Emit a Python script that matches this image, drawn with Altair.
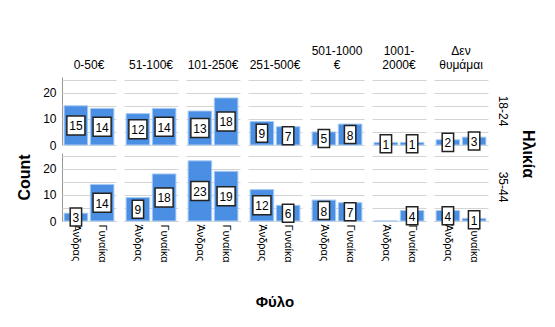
import altair as alt
import pandas as pd

incomes = ["0-50€", "51-100€", "101-250€", "251-500€", "501-1000|€", "1001-|2000€", "Δεν|θυμάμαι"]
ages = ["18-24", "35-44"]
genders = ["Άνδρας", "Γυναίκα"]
counts_18_24 = [[15, 14], [12, 14], [13, 18], [9, 7], [5, 8], [1, 1], [2, 3]]
counts_35_44 = [[3, 14], [9, 18], [23, 19], [12, 6], [8, 7], [0, 4], [4, 1]]

rows = []
for age, table in zip(ages, [counts_18_24, counts_35_44]):
    for inc, pair in zip(incomes, table):
        for g, c in zip(genders, pair):
            rows.append({"income": inc, "age": age, "gender": g, "count": c,
                         "digits": "two" if c >= 10 else "one"})
df = pd.DataFrame(rows)

FONT = "Liberation Sans"

x_scale = alt.Scale(paddingInner=0.1, paddingOuter=0.08)
y_scale = alt.Scale(domain=[0, 26], nice=False)
x_axis = alt.Axis(labelAngle=90, labelAlign="left", labelBaseline="middle",
                  ticks=False, labelFontSize=11, labelColor="#000",
                  domainColor="#888", labelPadding=3)
y_axis = alt.Axis(values=[0, 5, 10, 15, 20, 25],
                  labelExpr="datum.value % 10 == 0 ? datum.label : ''",
                  labelOverlap=False, grid=True,
                  ticks=False, gridColor="#d4d4d4", domainColor="#999",
                  labelFontSize=12, labelColor="#000", labelPadding=6)

def xy(yfield):
    return dict(
        x=alt.X("gender:N", sort=genders, title=None, scale=x_scale, axis=x_axis),
        y=alt.Y(yfield, scale=y_scale, title=None, axis=y_axis),
    )

bars = alt.Chart().mark_bar(color="#4a8fe3", stroke="#a9cbf2", strokeWidth=1).encode(
    **xy("count:Q")
)

boxes = alt.Chart().transform_filter("datum.count > 0").transform_calculate(
    mid="datum.count / 2"
).mark_point(filled=True, fill="white", stroke="#222", strokeWidth=1.5, opacity=1,
             size=361).encode(
    **xy("mid:Q"),
    shape=alt.Shape("digits:N", legend=None,
                    scale=alt.Scale(domain=["one", "two"],
                                    range=["M-0.6,-0.95H0.6V0.95H-0.6Z",
                                           "M-0.95,-1H0.95V1H-0.95Z"])),
)

labels = alt.Chart().transform_filter("datum.count > 0").transform_calculate(
    mid="datum.count / 2"
).mark_text(fontSize=12, color="#000", font=FONT, baseline="middle", dy=1).encode(
    **xy("mid:Q"),
    text="count:Q",
)

chart = alt.layer(bars, boxes, labels, data=df).properties(
    width=54, height=68
).facet(
    column=alt.Column("income:N", sort=incomes, title="Φύλο",
                      header=alt.Header(labelExpr="indexof(datum.value, '|') < 0 ? ['', datum.value] : split(datum.value, '|')",
                                        labelFontSize=12, labelColor="#000",
                                        labelBaseline="bottom", labelPadding=-7,
                                        titleOrient="bottom", titleFontSize=15,
                                        titleFontWeight="bold", titleColor="#000",
                                        titlePadding=22)),
    row=alt.Row("age:N", sort=ages, title="Ηλικία",
                header=alt.Header(labelOrient="right", titleOrient="right",
                                  labelAngle=90, titleAngle=90, labelFontSize=12,
                                  labelColor="#000", titleFontSize=16,
                                  titleFontWeight="bold", titleColor="#000",
                                  labelPadding=8, titlePadding=1)),
    spacing={"row": 8, "column": 8},
    bounds="flush",
).properties(
    title=alt.TitleParams("Count", orient="left", anchor="middle", fontSize=16,
                          fontWeight="bold", color="#000", font=FONT, offset=10),
).configure(font=FONT).configure_view(strokeWidth=0).properties(
    padding={"left": 16, "top": 45, "right": 10, "bottom": 10}
)

chart.save("out.html", embed_options={"renderer": "svg", "actions": False})
